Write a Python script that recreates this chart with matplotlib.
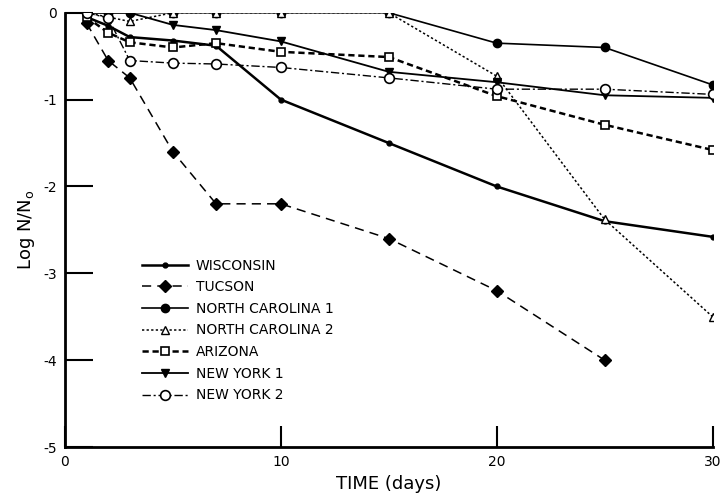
import numpy as np
import matplotlib
matplotlib.use('Agg')
import matplotlib.pyplot as plt

plt.rcParams['font.family'] = ['DejaVu Sans']

days = [1, 2, 3, 5, 7, 10, 15, 20, 25, 30]
days_tucson = [1, 2, 3, 5, 7, 10, 15, 20, 25]

wisconsin = [-0.05, -0.15, -0.28, -0.32, -0.38, -1.0, -1.5, -2.0, -2.4, -2.58]
tucson = [-0.12, -0.55, -0.75, -1.6, -2.2, -2.2, -2.6, -3.2, -4.0]
north_carolina1 = [0, 0, 0, 0, 0, 0, 0, -0.35, -0.4, -0.83]
north_carolina2 = [0, -0.05, -0.1, 0, 0, 0, 0, -0.73, -2.38, -3.5]
arizona = [-0.05, -0.23, -0.34, -0.4, -0.35, -0.45, -0.51, -0.96, -1.29, -1.58]
new_york1 = [0, 0, 0, -0.14, -0.2, -0.33, -0.68, -0.8, -0.95, -0.98]
new_york2 = [0, -0.06, -0.55, -0.58, -0.59, -0.63, -0.75, -0.88, -0.88, -0.94]

xticks = [0, 10, 20, 30]
yticks = [0, -1, -2, -3, -4, -5]

fig = plt.figure(figsize=(7.26, 4.98), dpi=100)
ax = fig.add_axes([0.0895, 0.1024, 0.892, 0.872])

k = 'black'
ax.plot(days, wisconsin, '-', color=k, lw=1.8, marker='o', ms=3.5, label='WISCONSIN')
ax.plot(days_tucson, tucson, color=k, lw=1.1, ls=(0, (6, 4)), marker='D', ms=6, label='TUCSON')
ax.plot(days, north_carolina1, '-', color=k, lw=1.2, marker='o', ms=6, label='NORTH CAROLINA 1')
ax.plot(days, north_carolina2, color=k, lw=1.1, ls=(0, (1.5, 1.5)), marker='^', ms=6,
        mfc='white', label='NORTH CAROLINA 2')
ax.plot(days, arizona, color=k, lw=1.8, ls=(0, (2.5, 1.5)), marker='s', ms=6,
        mfc='white', mew=1.2, label='ARIZONA')
ax.plot(days, new_york1, '-', color=k, lw=1.3, marker='v', ms=6, label='NEW YORK 1')
ax.plot(days, new_york2, color=k, lw=1.0, ls=(0, (6, 2, 1.5, 2)), marker='o', ms=7,
        mfc='white', mew=1.2, label='NEW YORK 2')

ax.set_xlim(0, 30)
ax.set_ylim(-5, 0)
ax.set_xticks(xticks)
ax.set_yticks(yticks)
ax.set_yticklabels([str(t) for t in yticks])
ax.tick_params(axis='y', direction='in', length=20, width=1.5, labelsize=10, pad=6)
ax.tick_params(axis='x', direction='in', length=15, width=1.5, labelsize=10, pad=6)
for s in ['top', 'right']:
    ax.spines[s].set_visible(False)
for s in ['left', 'bottom']:
    ax.spines[s].set_linewidth(2)

ax.set_xlabel('TIME (days)', fontsize=13, labelpad=4)
ax.set_ylabel(r'Log N/N$_\mathregular{o}$', fontsize=13, labelpad=4)

ax.legend(loc='upper left', bbox_to_anchor=(0.108, 0.45), frameon=False, fontsize=10,
          handlelength=3.3, labelspacing=0.55, handletextpad=0.6, borderpad=0)

plt.savefig('out.png', dpi=100)
